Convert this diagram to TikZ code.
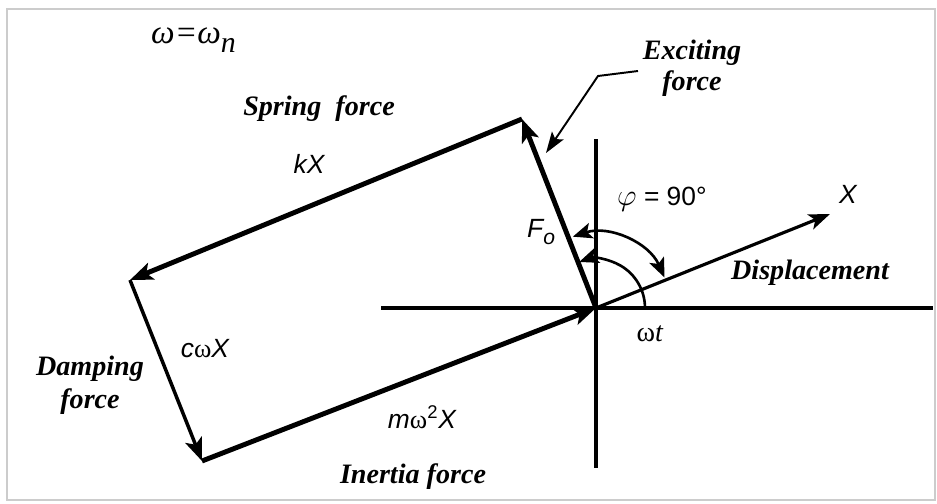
\documentclass[tikz,border=0pt]{standalone}
\usepackage{fontspec}
\setmainfont{Liberation Serif}
\newfontfamily\hv{Liberation Sans}
\usepackage{tikz}
\usetikzlibrary{arrows.meta}

\newcommand{\om}{{\rmfamily\upshape ω}}

\begin{document}
\begin{tikzpicture}[x=0.02cm, y=-0.02cm,
    >={Stealth[length=13pt, width=10pt, inset=3pt]},
    force/.style = {->, line width=2.8pt},
    axis/.style = {line width=1.8pt},
    turn/.style = {line width=1.5pt, >={Stealth[length=11pt, width=9pt, inset=2.5pt]}},
    word/.style = {font=\fontsize{16}{17.5}\selectfont\bfseries\itshape, align=center},
    sym/.style = {font=\fontsize{15}{17}\selectfont\hv\itshape}
    ]

    \useasboundingbox (0,0) rectangle (937,504);
    \draw[gray!40, line width=0.6pt] (7,9) rectangle (935,500);

    % phasor corners
    \coordinate (O) at (596,308);
    \coordinate (T) at (522,119);
    \coordinate (L) at (130,280);
    \coordinate (B) at (202,461);
    \coordinate (Xtip) at (830,214);

    % axes
    \coordinate (hl) at (381,308);
    \coordinate (hr) at (933,308);
    \coordinate (vt) at (596,139);
    \coordinate (vb) at (596,468);
    \draw[axis] (hl) -- (hr);
    \draw[axis] (vt) -- (vb);

    \path[force]
    (O) edge (T)
    (T) edge (L)
    (L) edge [line width=2pt] (B)
    (B) edge (O);

    \draw[->, line width=1.8pt, >={Stealth[length=12pt, width=9pt, inset=3pt]}] (O) -- (Xtip);

    % angles
    \draw[turn, <->] ([shift={(-108:75)}]O) arc[start angle=-108, end angle=-24, radius=75];
    \draw[turn, ->] ([shift={(0:49)}]O) arc[start angle=0, end angle=-110, radius=49];

    % labels
    \node[anchor=base west, font=\fontsize{19}{22}\selectfont\itshape] (wn) at (145,43) {ω=ω\raisebox{-5.5pt}{\fontsize{17}{17}\selectfont n}};
    \node[word, anchor=base] (spring) at (319,115) {Spring\ \ force};
    \node[sym, anchor=base] (kx) at (309,173) {kX};
    \node[word, anchor=base] (excite) at (692,90) {Exciting\\force};
    \node[sym, anchor=base west] (fo) at (521,237) {F\raisebox{-4.5pt}{\fontsize{12}{12}\selectfont o}};
    \node[sym, anchor=base west] (phi) at (611,205) {{\fontsize{18}{18}\selectfont$\varphi$} {\upshape = 90°}};
    \node[sym, anchor=base] (xl) at (848,203) {X};
    \node[word, anchor=base] (disp) at (810,279) {Displacement};
    \node[anchor=base, font=\fontsize{16}{18}\selectfont] (wt) at (650,341) {ω\textit{t}};
    \node[word, anchor=base, font=\fontsize{16}{18.5}\selectfont\bfseries\itshape] (damp) at (90,408) {Damping\\force};
    \node[sym, anchor=base] (cwx) at (205,357) {c\om X};
    \node[sym, anchor=base] (mwx) at (422,428) {m\om\textsuperscript{\upshape 2}X};
    \node[word, anchor=base] (inert) at (413,483) {Inertia force};

    % leader to the exciting force
    \coordinate (lead) at (638,71);
    \coordinate (knee) at (598,76);
    \coordinate (ltip) at (546,153);
    \draw[->, line width=1.1pt, >={Stealth[length=12pt, width=8pt, inset=2.5pt]}] (lead) -- (knee) -- (ltip);

\end{tikzpicture}
\end{document}
